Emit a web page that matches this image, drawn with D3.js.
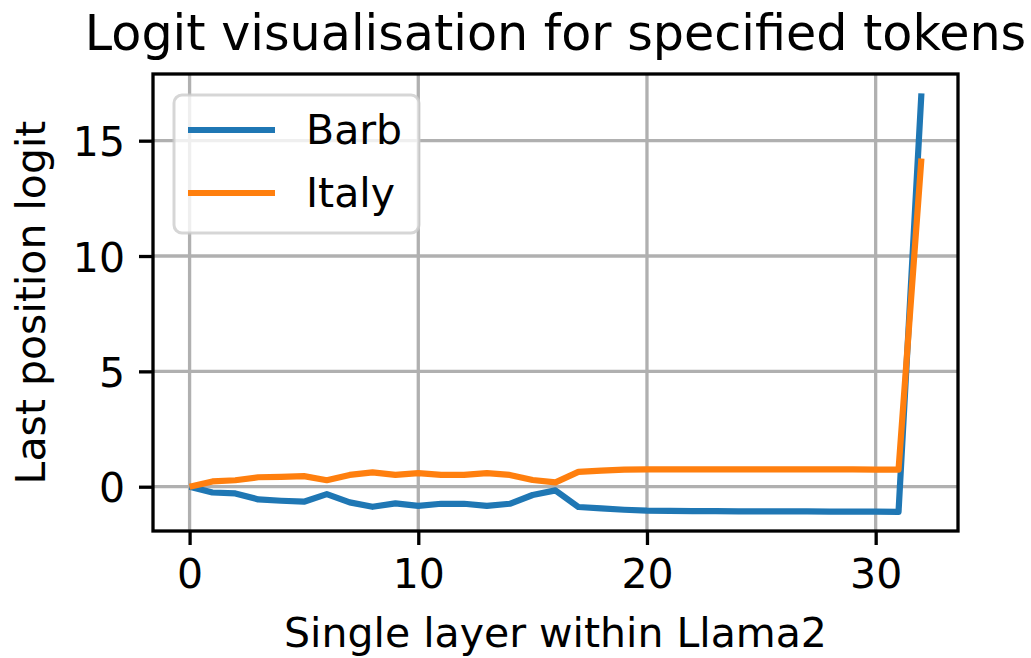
<!DOCTYPE html>
<html>
<head>
<meta charset="utf-8">
<script src="https://cdn.jsdelivr.net/npm/d3@7"></script>
<style>
  html, body { margin: 0; padding: 0; background: #fff; }
  svg { display: block; font-family: "DejaVu Sans", sans-serif; }
</style>
</head>
<body>
<svg id="chart" width="1031" height="658"></svg>
<script>
// Layer index (0..32) of Llama2
const layers = d3.range(0, 33);

// Last-position logit per layer for each token
const barb = [0, -0.25, -0.29, -0.55, -0.61, -0.65, -0.32, -0.68, -0.87, -0.72, -0.83,
  -0.74, -0.74, -0.83, -0.74, -0.36, -0.16, -0.88, -0.94, -1.0, -1.04,
  -1.05, -1.06, -1.06, -1.07, -1.07, -1.07, -1.07, -1.08, -1.08, -1.08, -1.09, 17.05];
const italy = [0, 0.23, 0.28, 0.41, 0.43, 0.46, 0.28, 0.51, 0.62, 0.51, 0.59,
  0.51, 0.51, 0.59, 0.51, 0.29, 0.19, 0.64, 0.70, 0.74, 0.75,
  0.75, 0.75, 0.75, 0.75, 0.75, 0.75, 0.75, 0.75, 0.75, 0.74, 0.74, 14.23];

const seriesNames = ["Barb", "Italy"];
const seriesColors = ["#1f77b4", "#ff7f0e"];
const xTicks = [0, 10, 20, 30];
const yTicks = [0, 5, 10, 15];

const svg = d3.select("#chart");
const plot = { left: 153, right: 958, top: 74, bottom: 531 };
const fontSize = 41;

const x = d3.scaleLinear().domain([-1.6, 33.6]).range([plot.left, plot.right]);
const y = d3.scaleLinear().domain([-1.92, 17.89]).range([plot.bottom, plot.top]);

// grid
const grid = svg.append("g").attr("stroke", "#b0b0b0").attr("stroke-width", 3.3);
grid.selectAll(".gx").data(xTicks).join("line")
  .attr("x1", d => x(d)).attr("x2", d => x(d))
  .attr("y1", plot.top).attr("y2", plot.bottom);
grid.selectAll(".gy").data(yTicks).join("line")
  .attr("y1", d => y(d)).attr("y2", d => y(d))
  .attr("x1", plot.left).attr("x2", plot.right);

// series lines
const line = d3.line().x((d, i) => x(layers[i])).y(d => y(d));
[barb, italy].forEach((vals, k) => {
  svg.append("path").datum(vals)
    .attr("d", line)
    .attr("fill", "none")
    .attr("stroke", seriesColors[k])
    .attr("stroke-width", 6.2)
    .attr("stroke-linejoin", "round")
    .attr("stroke-linecap", "butt");
});

// axes
const xAxis = d3.axisBottom(x).tickValues(xTicks).tickSize(14).tickPadding(14).tickFormat(d3.format("d"));
const yAxis = d3.axisLeft(y).tickValues(yTicks).tickSize(14).tickPadding(14).tickFormat(d3.format("d"));

const gx = svg.append("g").attr("transform", `translate(0,${plot.bottom})`).call(xAxis);
const gy = svg.append("g").attr("transform", `translate(${plot.left},0)`).call(yAxis);
[gx, gy].forEach(g => {
  g.select(".domain").remove();
  g.selectAll(".tick line").attr("stroke", "#000").attr("stroke-width", 3.3);
  g.selectAll(".tick text").attr("font-size", fontSize).attr("fill", "#000")
    .attr("font-family", "DejaVu Sans");
});
gy.selectAll(".tick text").attr("dy", "0.37em");

// frame
svg.append("rect")
  .attr("x", plot.left).attr("y", plot.top)
  .attr("width", plot.right - plot.left).attr("height", plot.bottom - plot.top)
  .attr("fill", "none").attr("stroke", "#000").attr("stroke-width", 3.3);

// legend
const legend = svg.append("g");
legend.append("rect")
  .attr("x", 174).attr("y", 95).attr("width", 245).attr("height", 138)
  .attr("rx", 8).attr("ry", 8)
  .attr("fill", "#fff").attr("fill-opacity", 0.8)
  .attr("stroke", "#cccccc").attr("stroke-opacity", 0.8).attr("stroke-width", 3);
seriesNames.forEach((name, k) => {
  const ly = 130 + k * 63;
  legend.append("line")
    .attr("x1", 188).attr("x2", 275).attr("y1", ly).attr("y2", ly)
    .attr("stroke", seriesColors[k]).attr("stroke-width", 6.2);
  legend.append("text")
    .attr("x", 306).attr("y", ly + 14)
    .attr("font-size", fontSize).attr("fill", "#000")
    .text(name);
});

// title and axis labels
svg.append("text")
  .attr("x", (plot.left + plot.right) / 2).attr("y", 50)
  .attr("text-anchor", "middle").attr("font-size", 49.2)
  .text("Logit visualisation for specified tokens");
svg.append("text")
  .attr("x", (plot.left + plot.right) / 2).attr("y", 647)
  .attr("text-anchor", "middle").attr("font-size", fontSize)
  .text("Single layer within Llama2");
svg.append("text")
  .attr("transform", `translate(45,${(plot.top + plot.bottom) / 2}) rotate(-90)`)
  .attr("text-anchor", "middle").attr("font-size", fontSize)
  .text("Last position logit");
</script>
</body>
</html>
